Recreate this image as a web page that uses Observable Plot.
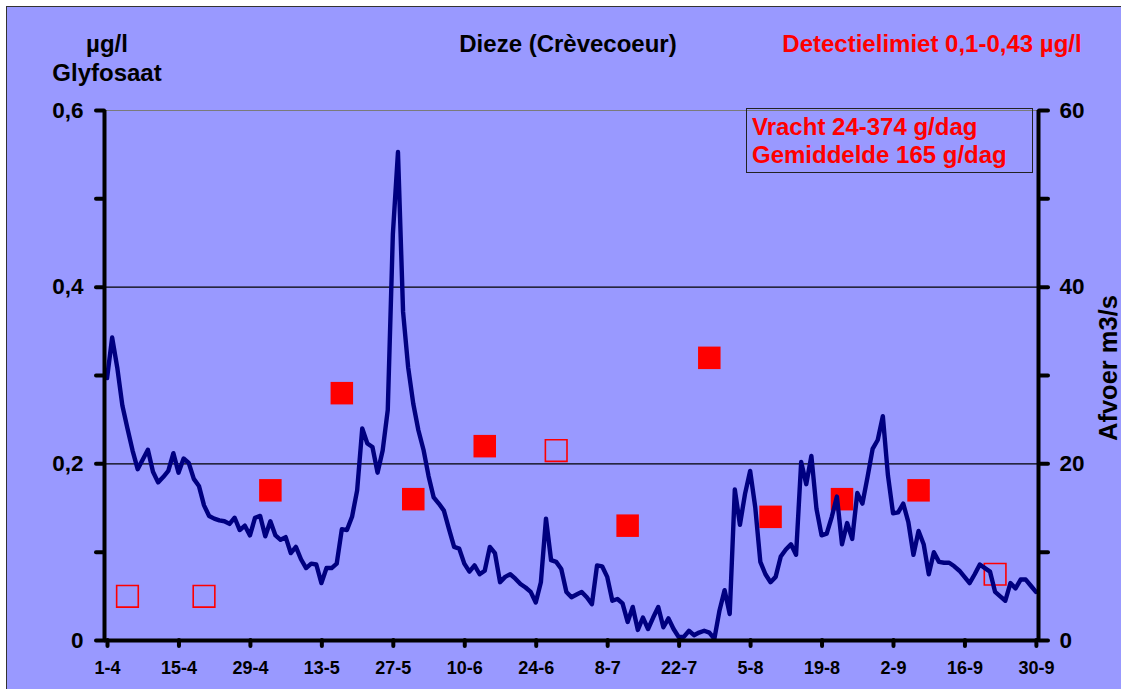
<!DOCTYPE html>
<html lang="nl">
<head>
<meta charset="utf-8">
<title>Dieze (Crèvecoeur) – glyfosaat en afvoer</title>
<script src="https://cdn.jsdelivr.net/npm/d3@7"></script>
<script src="https://cdn.jsdelivr.net/npm/@observablehq/plot@0.6"></script>
<style>
  html, body { margin: 0; padding: 0; overflow: hidden; background: #ffffff; }
  #grafiek { position: relative; width: 1121px; height: 689px; overflow: hidden; }
  #achtergrond {
    position: absolute; left: 6px; top: 6px; width: 1200px; height: 800px;
    background: #9999ff; border-left: 1.5px solid #333; border-top: 1.5px solid #333;
  }
  #grafiek svg { position: absolute; left: 0; top: 0; }
</style>
</head>
<body>
<div id="grafiek"><div id="achtergrond"></div></div>
<script>
// Dagelijkse afvoer (m3/s), 1-4 t/m 30-9
const startDatum = "1-4";
const afvoer = [
  29.7, 34.3, 30.9, 26.6, 24.0, 21.5, 19.4, 20.5, 21.6, 19.1,
  17.9, 18.5, 19.2, 21.2, 19.0, 20.6, 20.1, 18.3, 17.5, 15.3,
  14.1, 13.8, 13.6, 13.5, 13.2, 13.9, 12.5, 13.0, 11.9, 13.9,
  14.1, 11.8, 13.5, 11.9, 11.4, 11.7, 9.9, 10.6, 9.2, 8.2,
  8.7, 8.6, 6.5, 8.2, 8.2, 8.7, 12.6, 12.5, 14.0, 17.0,
  24.0, 22.3, 21.9, 19.0, 21.5, 26.1, 46.0, 55.3, 37.2, 30.9,
  26.8, 23.8, 21.6, 18.6, 16.2, 15.5, 14.7, 12.6, 10.6, 10.4,
  8.7, 7.8, 8.5, 7.5, 7.9, 10.6, 9.9, 6.6, 7.2, 7.5,
  7.0, 6.4, 6.0, 5.5, 4.3, 6.6, 13.8, 9.1, 8.9, 8.1,
  5.5, 4.9, 5.2, 5.5, 4.9, 4.1, 8.5, 8.4, 7.2, 4.5,
  4.7, 4.2, 2.1, 3.8, 1.2, 2.6, 1.3, 2.6, 3.8, 1.5,
  2.5, 1.3, 0.4, 0.4, 1.1, 0.6, 0.9, 1.1, 0.9, 0.2,
  3.4, 5.7, 3.0, 17.1, 13.1, 16.6, 19.2, 15.1, 8.9, 7.5,
  6.6, 7.2, 9.5, 10.3, 10.9, 9.7, 20.2, 17.7, 20.9, 14.9,
  11.9, 12.1, 14.0, 16.3, 10.9, 13.3, 11.5, 16.7, 15.5, 18.5,
  21.7, 22.7, 25.4, 18.7, 14.4, 14.5, 15.5, 13.4, 9.7, 12.4,
  10.9, 7.5, 10.0, 8.9, 8.8, 8.8, 8.4, 7.9, 7.2, 6.5,
  7.5, 8.6, 8.2, 7.8, 5.5, 5.0, 4.5, 6.5, 5.9, 6.9,
  6.9, 6.2, 5.5
];

// Glyfosaatmetingen (µg/l); open = onder de detectielimiet
const monsterDatum = ["5-4", "20-4", "3-5", "17-5", "31-5", "14-6", "28-6", "12-7", "28-7", "9-8", "23-8", "7-9", "22-9"];
const glyfosaat   = [0.05, 0.05, 0.17, 0.28, 0.16, 0.22, 0.215, 0.13, 0.32, 0.14, 0.16, 0.17, 0.075];
const onderLimiet = [true, true, false, false, false, false, true, false, false, false, false, false, true];

// As-indeling
const xLabels = ["1-4", "15-4", "29-4", "13-5", "27-5", "10-6", "24-6", "8-7", "22-7", "5-8", "19-8", "2-9", "16-9", "30-9"];
const eindDatum = "1-10";
const linksTicks = [0, 0.2, 0.4, 0.6];
const linksLabels = ["0", "0,2", "0,4", "0,6"];
const tussenTicks = [0.1, 0.3, 0.5];
const rechtsLabels = ["0", "20", "40", "60"];
const afvoerFactor = 100; // 0,6 µg/l op de linkeras = 60 m3/s op de rechteras

const jaar = 2000;
const datum = (s) => { const [d, m] = s.split("-").map(Number); return new Date(Date.UTC(jaar, m - 1, d)); };
const dagMidden = (t) => new Date(+t + 12 * 3600 * 1000);

const begin = datum(startDatum);
const einde = datum(eindDatum);

const afvoerData = afvoer.map((v, i) => ({ t: dagMidden(d3.utcDay.offset(begin, i)), v }));
const metingen = monsterDatum.map((s, i) => ({ t: dagMidden(datum(s)), v: glyfosaat[i], open: onderLimiet[i] }));

const xTicks = xLabels.map(datum);
const xLabelMap = new Map(xTicks.map((t, i) => [+t, xLabels[i]]));
const linksMap = new Map(linksTicks.map((t, i) => [t, linksLabels[i]]));
const rechtsMap = new Map(linksTicks.map((t, i) => [t, rechtsLabels[i]]));

const font = "'Liberation Sans', Arial, sans-serif";
const asDikte = 4;

const svg = Plot.plot({
  width: 1121,
  height: 689,
  marginLeft: 104,
  marginRight: 83,
  marginTop: 110,
  marginBottom: 49,
  x: { type: "utc", domain: [begin, einde] },
  y: { domain: [0, 0.6] },
  style: { background: "transparent", fontFamily: font, fontWeight: "bold", color: "black", overflow: "visible" },
  marks: [
    // rasterlijnen
    Plot.ruleY([0.2, 0.4], { stroke: "#000", strokeWidth: 1.2 }),
    Plot.ruleY([0.6], { stroke: "#7a7a7a", strokeWidth: 1.2 }),

    // glyfosaat
    Plot.dot(metingen.filter(d => !d.open), { x: "t", y: "v", symbol: "square", r: 12.7, fill: "#ff0000", stroke: "none" }),
    Plot.dot(metingen.filter(d => d.open), { x: "t", y: "v", symbol: "square", r: 12.2, fill: "none", stroke: "#ff0000", strokeWidth: 1.6 }),

    // afvoer
    Plot.line(afvoerData, { x: "t", y: d => d.v / afvoerFactor, stroke: "#000080", strokeWidth: 4.4, strokeLinejoin: "round", strokeLinecap: "round" }),

    // assen
    Plot.ruleX([begin], { strokeWidth: asDikte, stroke: "#000" }),
    Plot.ruleX([einde], { strokeWidth: asDikte, stroke: "#000" }),
    Plot.ruleY([0], { strokeWidth: asDikte, stroke: "#000" }),
    Plot.axisX({ ticks: xTicks, tickFormat: d => xLabelMap.get(+d), tickSize: 6, tickPadding: 15, strokeWidth: asDikte, strokeLinecap: "round", fontSize: 18, dx: 3, label: null }),
    Plot.axisY({ anchor: "left", ticks: linksTicks, tickFormat: d => linksMap.get(d), tickSize: 8, tickPadding: 13, strokeWidth: asDikte, strokeLinecap: "round", fontSize: 22.5, label: null }),
    Plot.axisY({ anchor: "left", ticks: tussenTicks, tickFormat: () => "", tickSize: 8, strokeWidth: asDikte, strokeLinecap: "round", label: null }),
    Plot.axisY({ anchor: "right", ticks: linksTicks, tickFormat: d => rechtsMap.get(d), tickSize: 9, tickPadding: 12, strokeWidth: asDikte, strokeLinecap: "round", fontSize: 22.5, label: null }),
    Plot.axisY({ anchor: "right", ticks: tussenTicks, tickFormat: () => "", tickSize: 9, strokeWidth: asDikte, strokeLinecap: "round", label: null })
  ]
});

// Titels en toelichting
const s = d3.select(svg);
const tekst = (x, y, t, opts = {}) => s.append("text")
  .attr("x", x).attr("y", y)
  .attr("text-anchor", opts.anchor || "middle")
  .attr("fill", opts.fill || "#000")
  .attr("font-size", opts.size || 24)
  .attr("font-weight", "bold")
  .attr("font-family", font)
  .text(t);

tekst(107, 52, "µg/l");
tekst(107, 81, "Glyfosaat");
tekst(568, 52, "Dieze (Crèvecoeur)");
tekst(932, 52, "Detectielimiet 0,1-0,43 µg/l", { fill: "#ff0000" });

s.append("rect")
  .attr("x", 746.5).attr("y", 108.5).attr("width", 286).attr("height", 64)
  .attr("fill", "none").attr("stroke", "#222").attr("stroke-width", 1);
tekst(752, 135, "Vracht 24-374 g/dag", { anchor: "start", fill: "#ff0000" });
tekst(752, 163, "Gemiddelde 165 g/dag", { anchor: "start", fill: "#ff0000" });

s.append("text")
  .attr("transform", "translate(1117,368) rotate(-90)")
  .attr("text-anchor", "middle")
  .attr("font-size", 25.5)
  .attr("font-weight", "bold")
  .attr("font-family", font)
  .attr("fill", "#000")
  .text("Afvoer m3/s");

document.getElementById("grafiek").appendChild(svg);
</script>
</body>
</html>
